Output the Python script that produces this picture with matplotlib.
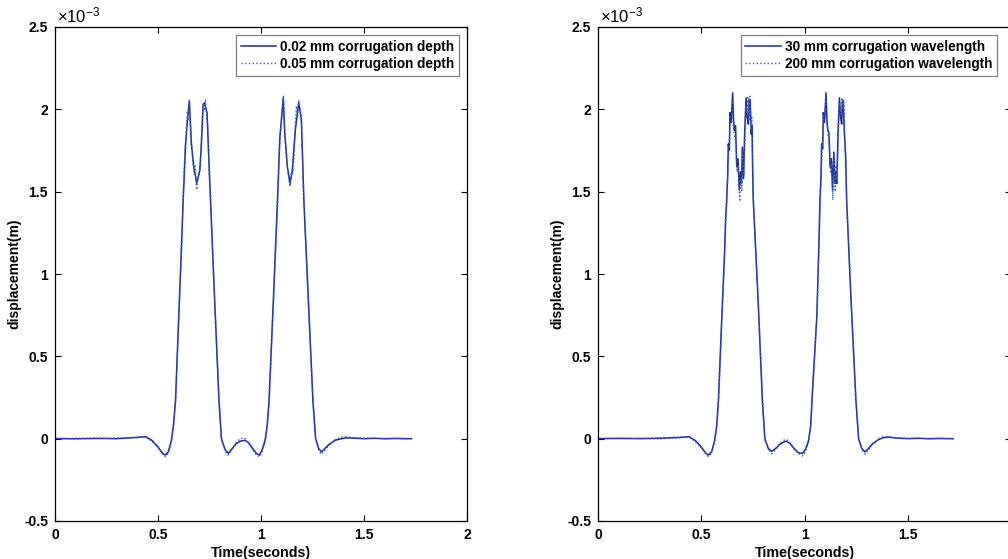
import numpy as np
import matplotlib
matplotlib.use('Agg')
import matplotlib.pyplot as plt
from matplotlib.ticker import FuncFormatter

plt.rcParams['font.family'] = ['Liberation Sans', 'DejaVu Sans']
plt.rcParams['axes.unicode_minus'] = False
plt.rcParams['mathtext.default'] = 'regular'

# displacement values in units of 1e-3 m
# left panel: corrugation depth
t_d02 = [0, 0.1, 0.2, 0.3, 0.4, 0.44, 0.47, 0.50, 0.52, 0.535, 0.55, 0.565, 0.575, 0.585,
         0.60, 0.612, 0.622, 0.634, 0.644, 0.652, 0.662, 0.674, 0.688, 0.703, 0.711, 0.719,
         0.725, 0.738, 0.748, 0.755, 0.775, 0.796, 0.808, 0.825, 0.841, 0.86, 0.88, 0.90,
         0.922, 0.94, 0.96, 0.978, 0.992, 1.005, 1.02, 1.03, 1.039, 1.06, 1.080, 1.091,
         1.100, 1.108, 1.115, 1.128, 1.141, 1.152, 1.167, 1.183, 1.196, 1.208, 1.23, 1.252,
         1.265, 1.28, 1.294, 1.31, 1.33, 1.36, 1.39, 1.416, 1.45, 1.50, 1.55, 1.60, 1.65,
         1.70, 1.731]
y_d02 = [0, 0, 0.002, 0, 0.008, 0.012, -0.01, -0.05, -0.085, -0.10, -0.08, -0.01, 0.08, 0.231,
         0.72, 1.1, 1.447, 1.79, 1.95, 2.05, 1.79, 1.65, 1.55, 1.63, 1.8, 2.03,
         2.04, 1.98, 1.66, 1.447, 0.84, 0.231, 0.0, -0.065, -0.09, -0.06, -0.03, -0.015,
         -0.01, -0.025, -0.06, -0.09, -0.10, -0.07, -0.01, 0.08, 0.231, 0.84, 1.447, 1.82,
         1.95, 2.07, 1.86, 1.65, 1.55, 1.63, 1.88, 2.04, 1.94, 1.447, 0.84, 0.231,
         0.0, -0.06, -0.08, -0.06, -0.035, -0.01, 0.0, 0.005, 0.003, 0.0, 0.002, 0.0, 0.001,
         0.0, 0.0]

t_d05 = [0, 0.1, 0.2, 0.3, 0.4, 0.44, 0.47, 0.50, 0.52, 0.537, 0.55, 0.565, 0.575, 0.585,
         0.60, 0.612, 0.622, 0.630, 0.636, 0.642, 0.647, 0.652, 0.657, 0.662, 0.668, 0.674,
         0.680, 0.688, 0.694, 0.700, 0.706, 0.711, 0.716, 0.721, 0.726, 0.731, 0.736, 0.742,
         0.748, 0.756, 0.776, 0.797, 0.809, 0.826, 0.840, 0.86, 0.88, 0.90, 0.92, 0.94,
         0.96, 0.978, 0.993, 1.005, 1.02, 1.03, 1.040, 1.06, 1.081, 1.088, 1.094, 1.100,
         1.105, 1.109, 1.114, 1.120, 1.127, 1.134, 1.141, 1.147, 1.153, 1.160, 1.166, 1.172,
         1.178, 1.184, 1.190, 1.196, 1.209, 1.23, 1.253, 1.266, 1.28, 1.293, 1.31, 1.33,
         1.36, 1.39, 1.416, 1.45, 1.50, 1.55, 1.60, 1.65, 1.70, 1.731]
y_d05 = [0.003, -0.002, 0.0, 0.004, 0.006, 0.01, -0.015, -0.055, -0.09, -0.11, -0.09, -0.02, 0.07, 0.22,
         0.70, 1.08, 1.43, 1.74, 1.83, 1.98, 1.93, 2.06, 1.92, 1.80, 1.70, 1.62,
         1.66, 1.51, 1.58, 1.60, 1.67, 1.82, 1.96, 2.04, 1.99, 2.06, 1.95, 1.90,
         1.62, 1.42, 0.82, 0.22, -0.01, -0.075, -0.10, -0.07, -0.02, 0.0,
         0.005, -0.03, -0.07, -0.10, -0.11, -0.08, -0.02, 0.07, 0.22, 0.82, 1.44, 1.70,
         1.85, 1.96, 2.02, 2.08, 1.90, 1.78, 1.66, 1.58, 1.53, 1.62, 1.60, 1.70, 1.90, 2.02,
         1.96, 2.05, 2.00, 1.93, 1.43, 0.82, 0.22,
         -0.01, -0.07, -0.095, -0.07, -0.04, -0.005, 0.01, 0.012, 0.006, 0.002, 0.004, -0.002,
         0.003, 0.0, 0.0]

# right panel: corrugation wavelength
t_w30 = [0, 0.1, 0.2, 0.3, 0.4, 0.44, 0.47, 0.50, 0.52, 0.534, 0.55, 0.565, 0.575, 0.583,
         0.60, 0.612, 0.618, 0.623, 0.628, 0.631, 0.636, 0.639, 0.645, 0.652, 0.656, 0.660,
         0.666, 0.672, 0.678, 0.684, 0.690, 0.695, 0.699, 0.705, 0.710, 0.717, 0.722, 0.728,
         0.732, 0.737, 0.742, 0.746, 0.749, 0.752, 0.775, 0.796, 0.808, 0.825, 0.841, 0.86,
         0.88, 0.90, 0.914, 0.93, 0.95, 0.97, 0.99, 1.005, 1.02, 1.03, 1.036, 1.06, 1.070,
         1.075, 1.080, 1.083, 1.088, 1.091, 1.097, 1.104, 1.108, 1.112, 1.118, 1.124, 1.130,
         1.136, 1.142, 1.148, 1.152, 1.156, 1.163, 1.169, 1.175, 1.180, 1.184, 1.188, 1.193,
         1.199, 1.204, 1.225, 1.249, 1.262, 1.278, 1.293, 1.31, 1.33, 1.36, 1.38, 1.406,
         1.44, 1.50, 1.55, 1.60, 1.65, 1.72]
y_w30 = [0, 0.002, 0.0, 0.003, 0.008, 0.012, -0.01, -0.05, -0.085, -0.10, -0.08, -0.01, 0.08, 0.231,
         0.75, 1.1, 1.33, 1.447, 1.6, 1.79, 1.75, 1.98, 1.92, 2.10, 1.95, 1.87,
         1.90, 1.65, 1.70, 1.51, 1.62, 1.55, 1.77, 1.58, 1.85, 2.07, 1.95, 1.91,
         2.06, 2.05, 1.85, 1.90, 1.63, 1.447, 0.85, 0.231, 0.0, -0.06, -0.077, -0.06,
         -0.035, -0.02, -0.016, -0.03, -0.06, -0.085, -0.09, -0.065, -0.01, 0.08, 0.231, 0.75, 1.2,
         1.447, 1.6, 1.79, 1.76, 1.98, 1.92, 2.10, 1.95, 1.88, 1.86, 1.65, 1.70,
         1.51, 1.74, 1.55, 1.62, 1.55, 1.88, 2.07, 1.95, 1.91, 2.05, 2.04, 1.86,
         1.72, 1.447, 0.85, 0.231, 0.0, -0.06, -0.08, -0.06, -0.03, -0.005, 0.005, 0.01,
         0.004, 0.0, 0.002, 0.0, 0.001, 0.0]

t_w200 = [0, 0.1, 0.2, 0.3, 0.4, 0.44, 0.47, 0.50, 0.52, 0.536, 0.55, 0.565, 0.575, 0.584,
          0.60, 0.612, 0.619, 0.624, 0.629, 0.633, 0.637, 0.641, 0.647, 0.651, 0.655, 0.661,
          0.667, 0.673, 0.679, 0.686, 0.691, 0.696, 0.700, 0.706, 0.711, 0.716, 0.721, 0.726,
          0.731, 0.736, 0.740, 0.745, 0.750, 0.753, 0.776, 0.797, 0.809, 0.826, 0.842, 0.86,
          0.88, 0.90, 0.915, 0.93, 0.95, 0.97, 0.991, 1.005, 1.02, 1.03, 1.037, 1.06, 1.071,
          1.076, 1.081, 1.085, 1.089, 1.093, 1.099, 1.105, 1.110, 1.114, 1.120, 1.126, 1.131,
          1.137, 1.143, 1.149, 1.153, 1.158, 1.164, 1.170, 1.176, 1.181, 1.186, 1.190, 1.195,
          1.200, 1.205, 1.226, 1.250, 1.263, 1.279, 1.294, 1.31, 1.33, 1.36, 1.38, 1.406,
          1.44, 1.50, 1.55, 1.60, 1.65, 1.72]
y_w200 = [0.003, 0.0, 0.003, -0.002, 0.006, 0.01, -0.015, -0.055, -0.09, -0.11, -0.09, -0.02, 0.07, 0.22,
          0.73, 1.08, 1.34, 1.43, 1.62, 1.74, 1.80, 1.95, 1.97, 2.05, 1.90, 1.84,
          1.80, 1.62, 1.66, 1.44, 1.58, 1.50, 1.72, 1.60, 1.80, 2.02, 1.98, 2.07,
          1.93, 2.08, 1.88, 1.96, 1.58, 1.43, 0.84, 0.22, -0.01, -0.07, -0.09, -0.07,
          -0.03, -0.01, -0.005, -0.025, -0.065, -0.09, -0.105, -0.075, -0.02, 0.07, 0.22, 0.74, 1.18,
          1.43, 1.62, 1.76, 1.80, 1.96, 1.98, 2.07, 1.92, 1.84, 1.82, 1.62, 1.67,
          1.45, 1.70, 1.50, 1.66, 1.58, 1.84, 2.04, 1.97, 2.07, 2.00, 2.06, 1.82,
          1.70, 1.43, 0.84, 0.22, -0.01, -0.07, -0.095, -0.07, -0.035, 0.0, 0.012, 0.014,
          0.006, 0.002, 0.004, -0.002, 0.002, 0.0]

solid_col = '#1c2d8c'
dot_col = '#3a5ac8'

fig = plt.figure(figsize=(10.08, 5.59), dpi=100)
ax1 = fig.add_axes([55/1008, 38/559, 412/1008, 494/559])
ax2 = fig.add_axes([598/1008, 38/559, 413/1008, 494/559])

panels = [
    (ax1, t_d02, y_d02, t_d05, y_d05,
     ['0.02 mm corrugation depth', '0.05 mm corrugation depth'], (404/412, 486/494)),
    (ax2, t_w30, y_w30, t_w200, y_w200,
     ['30 mm corrugation wavelength', '200 mm corrugation wavelength'], (399/413, 486/494)),
]

for ax, ta, ya, tb, yb, labels, anchor in panels:
    ax.plot(ta, np.array(ya)*1e-3, color=solid_col, lw=1.1, ls='-', label=labels[0])
    ax.plot(tb, np.array(yb)*1e-3, color=dot_col, lw=1.0, ls=':', label=labels[1])
    ax.set_xlim(0, 2)
    ax.set_ylim(-0.5e-3, 2.5e-3)
    ax.set_xticks([0, 0.5, 1, 1.5, 2])
    ax.set_yticks(np.arange(-0.5, 2.51, 0.5)*1e-3)
    ax.xaxis.set_major_formatter(FuncFormatter(lambda v, p: '%g' % v))
    ax.yaxis.set_major_formatter(FuncFormatter(lambda v, p: '%g' % round(v*1e3, 3)))
    ax.tick_params(direction='in', top=True, right=True, length=4, width=0.8,
                   labelsize=10, pad=5)
    for lab in ax.get_xticklabels() + ax.get_yticklabels():
        lab.set_fontweight('bold')
    for s in ax.spines.values():
        s.set_linewidth(0.9)
    ax.set_xlabel('Time(seconds)', fontsize=10.3, fontweight='bold', labelpad=3)
    ax.set_ylabel('displacement(m)', fontsize=10, fontweight='bold', labelpad=2)
    ax.text(0.004, 1.004, r'$\times$10$^{-3}$', transform=ax.transAxes,
            fontsize=12, ha='left', va='bottom')
    leg = ax.legend(loc='upper right', bbox_to_anchor=anchor,
                    prop={'weight': 'bold', 'size': 9.8}, fancybox=False, framealpha=1,
                    edgecolor='#7f7f7f', borderaxespad=0, handlelength=2.6,
                    handletextpad=0.3, borderpad=0.35, labelspacing=0.25)
    leg.get_frame().set_linewidth(0.9)

fig.savefig('out.png', dpi=100)
